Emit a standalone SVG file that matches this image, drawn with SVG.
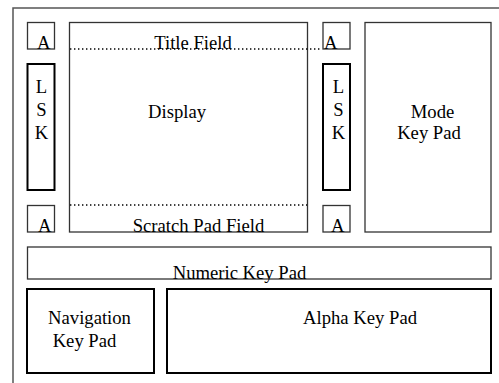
<svg xmlns="http://www.w3.org/2000/svg" width="499" height="383" viewBox="0 0 499 383">
<style>
text{font-family:'Liberation Serif','Times New Roman',Times,serif;font-size:18.67px;fill:#000}
.thin{fill:none;stroke:#333;stroke-width:1.3}
.thick{fill:none;stroke:#000;stroke-width:2}
.dot{fill:none;stroke:#000;stroke-width:1.5;stroke-dasharray:1.4 2.6}
.frame{fill:none;stroke:#555;stroke-width:1.5}
</style>
<rect width="499" height="383" fill="#fff"/>
<g id="frame"><path class="frame" d="M13,383 V8 H499"/></g>
<g id="a-tl"><rect class="thin" x="27.5" y="22.5" width="27" height="26.5"/><text x="37" y="49" font-family="Liberation Serif, serif">A</text></g>
<g id="lsk-left"><rect class="thick" x="27.5" y="64" width="27" height="126"/><text x="41.5" y="93" text-anchor="middle">L</text><text x="41.5" y="116" text-anchor="middle">S</text><text x="41.5" y="138.5" text-anchor="middle">K</text></g>
<g id="a-bl"><rect class="thin" x="27.5" y="205.5" width="27" height="26.5"/><text x="38" y="232">A</text></g>
<g id="display"><rect class="thin" x="69.5" y="22.5" width="238" height="209.5"/><text x="177" y="117.5" text-anchor="middle">Display</text><text x="193" y="49" text-anchor="middle">Title Field</text><text x="198.5" y="232" text-anchor="middle">Scratch Pad Field</text></g>
<g id="a-tr"><rect class="thin" x="323" y="22.5" width="27" height="26.5"/><text x="324" y="49">A</text></g>
<g id="lsk-right"><rect class="thick" x="323" y="64" width="27" height="126"/><text x="338.5" y="93" text-anchor="middle">L</text><text x="338.5" y="116" text-anchor="middle">S</text><text x="338.5" y="138.5" text-anchor="middle">K</text></g>
<g id="a-br"><rect class="thin" x="323" y="205.5" width="27" height="26.5"/><text x="331" y="232">A</text></g>
<g id="mode"><rect class="thin" x="365" y="22.5" width="126" height="209.5"/><text x="432.5" y="117.5" text-anchor="middle">Mode</text><text x="429" y="139" text-anchor="middle">Key Pad</text></g>
<g id="numeric"><rect class="thin" x="27.5" y="247" width="463.5" height="32"/><text x="239.5" y="279" text-anchor="middle">Numeric Key Pad</text></g>
<g id="navigation"><rect class="thick" x="27" y="289" width="127" height="84"/><text x="89.5" y="324" text-anchor="middle">Navigation</text><text x="84.5" y="347" text-anchor="middle">Key Pad</text></g>
<g id="alpha"><rect class="thick" x="167" y="289" width="324" height="84"/><text x="360" y="324" text-anchor="middle">Alpha Key Pad</text></g>
<g id="connectors"><path class="dot" d="M70,49 H321"/><path class="dot" d="M70,205 H307"/></g>
</svg>
